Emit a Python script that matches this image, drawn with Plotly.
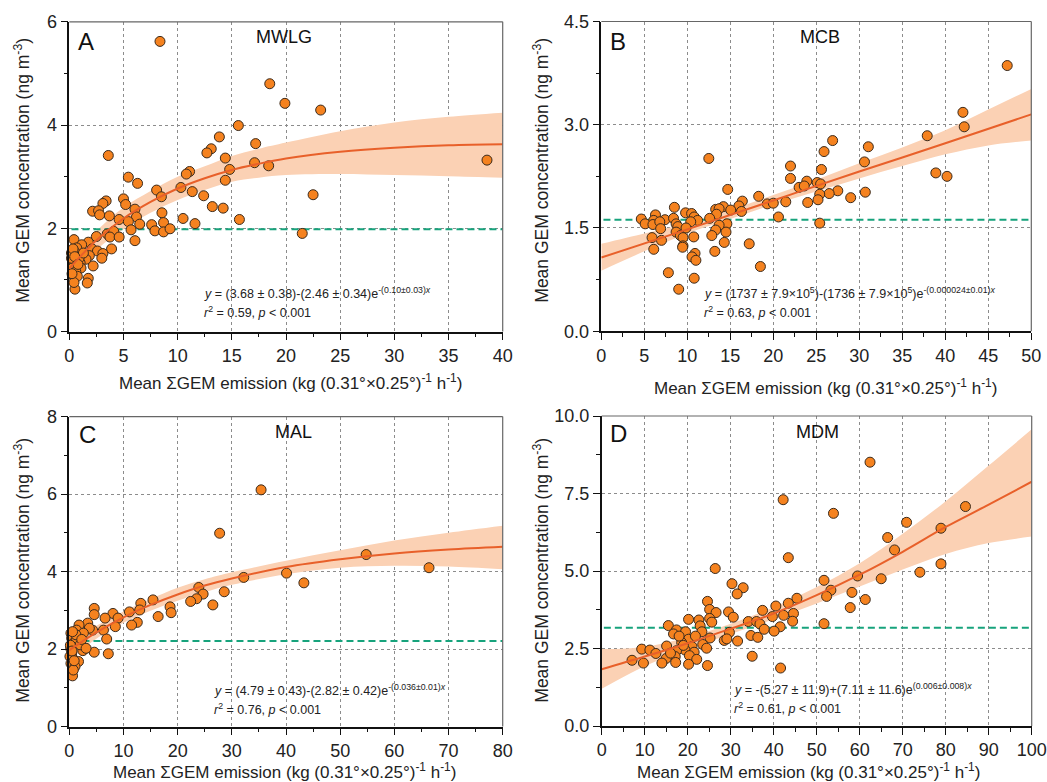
import plotly.graph_objects as go

# ---------------- Panel A (MWLG) ----------------
a_x = [8.37, 18.5, 19.9, 23.2, 15.6, 13.85, 17.2, 13.1, 12.7, 14.4, 3.6, 38.55, 17.1, 18.4, 14.8,
       11.1, 10.8, 14.4, 5.45, 6.3, 10.3, 8.06, 11.35, 22.5, 12.4, 8.5, 5.0, 3.4, 3.1, 5.2, 6.06,
       13.2, 14.2, 2.15, 2.7, 2.8, 3.7, 6.2, 8.55, 10.5, 15.7, 4.6, 5.45, 8.7, 11.6, 6.5, 7.6, 7.9,
       8.7, 9.3, 5.7, 21.5, 3.5, 4.1, 3.75, 4.6, 2.5, 6.06, 0.43, 1.75, 3.9, 2.1, 1.14, 0.68, 0.6,
       2.6, 3.1, 3.0, 1.85, 1.54, 1.0, 0.43, 0.3, 1.08, 2.2, 0.6, 0.43, 0.74, 1.75, 1.66, 0.52, 0.43,
       0.9, 1.3, 0.2, 0.2, 0.35, 0.5, 0.8, 0.25]
a_y = [5.62, 4.80, 4.42, 4.29, 3.99, 3.77, 3.64, 3.54, 3.46, 3.36, 3.41, 3.32, 3.27, 3.21, 3.14,
       3.10, 3.05, 2.93, 2.99, 2.87, 2.79, 2.74, 2.71, 2.65, 2.63, 2.61, 2.57, 2.53, 2.48, 2.46, 2.37,
       2.42, 2.39, 2.33, 2.34, 2.26, 2.24, 2.22, 2.30, 2.19, 2.17, 2.17, 2.13, 2.11, 2.09, 2.08, 2.07, 1.95,
       1.93, 1.99, 1.97, 1.90, 1.89, 1.94, 1.83, 1.83, 1.84, 1.76, 1.78, 1.73, 1.60, 1.60, 1.68, 1.62, 1.52,
       1.56, 1.51, 1.42, 1.47, 1.40, 1.33, 1.33, 1.23, 1.23, 1.27, 1.16, 1.07, 1.07, 1.03, 0.94, 0.82, 0.95,
       1.42, 1.52, 1.42, 1.52, 1.60, 1.45, 1.30, 1.12]
a_fit_x = [0, 2.5, 5, 7.5, 10, 12.5, 15, 17.5, 20, 25, 30, 35, 40]
a_fit_y = [1.22, 1.77, 2.19, 2.51, 2.77, 2.97, 3.13, 3.25, 3.35, 3.48, 3.56, 3.61, 3.63]
a_lo = [0.98, 1.58, 1.98, 2.30, 2.55, 2.74, 2.90, 2.98, 3.03, 3.05, 3.03, 3.01, 2.98]
a_hi = [1.45, 1.95, 2.40, 2.72, 3.00, 3.20, 3.40, 3.54, 3.66, 3.88, 4.05, 4.16, 4.24]
a_ref = 1.98

# ---------------- Panel B (MCB) ----------------
b_x = [47.2, 42.05, 42.2, 37.9, 26.9, 31.05, 25.9, 12.5, 30.6, 22.0, 25.6, 38.9, 40.2, 22.0, 23.9,
       25.1, 23.0, 23.6, 25.5, 14.7, 27.5, 30.7, 26.5, 25.4, 18.3, 29.0, 25.2, 16.4, 21.45, 24.0, 19.3,
       20.0, 16.0, 16.3, 14.2, 15.05, 13.3, 13.7, 8.5, 9.8, 10.5, 6.3, 13.4, 10.8, 20.6, 4.65, 7.4, 8.4,
       12.6, 11.2, 6.1, 5.1, 6.0, 6.8, 8.7, 10.4, 25.4, 14.6, 13.7, 8.9, 6.9, 9.85, 13.3, 8.7, 14.5, 5.9,
       12.85, 9.2, 9.5, 10.75, 7.0, 14.3, 17.2, 9.5, 9.45, 6.1, 13.2, 10.9, 10.55, 11.0, 18.5, 7.8, 10.8, 9.0]
b_y = [3.86, 3.18, 2.97, 2.84, 2.77, 2.68, 2.61, 2.51, 2.46, 2.40, 2.35, 2.30, 2.25, 2.22, 2.18,
       2.16, 2.09, 2.11, 2.14, 2.06, 2.04, 2.02, 2.00, 1.99, 1.96, 1.94, 1.91, 1.89, 1.88, 1.87, 1.85,
       1.86, 1.82, 1.74, 1.81, 1.76, 1.77, 1.78, 1.80, 1.72, 1.71, 1.69, 1.70, 1.66, 1.66, 1.63, 1.62, 1.64,
       1.64, 1.61, 1.61, 1.56, 1.55, 1.59, 1.56, 1.59, 1.57, 1.56, 1.54, 1.52, 1.49, 1.50, 1.47, 1.44, 1.44, 1.36,
       1.39, 1.39, 1.36, 1.37, 1.32, 1.29, 1.27, 1.24, 1.22, 1.19, 1.16, 1.13, 1.08, 1.03, 0.94, 0.85, 0.77, 0.61]
b_fit_x = [0, 10, 20, 30, 40, 50]
b_fit_y = [1.07, 1.48, 1.90, 2.32, 2.73, 3.15]
b_band_x = [0, 5, 10, 15, 20, 25, 30, 35, 40, 45, 50]
b_lo = [0.88, 1.16, 1.42, 1.63, 1.84, 2.03, 2.22, 2.40, 2.57, 2.70, 2.77]
b_hi = [1.27, 1.42, 1.57, 1.76, 1.98, 2.20, 2.44, 2.67, 2.92, 3.22, 3.52]
b_ref = 1.62

# ---------------- Panel C (MAL) ----------------
c_x = [35.4, 27.75, 54.8, 66.4, 40.1, 43.3, 32.2, 23.9, 28.6, 24.7, 23.5, 22.4, 26.5, 15.45, 13.2,
       18.6, 13.0, 18.8, 11.1, 4.6, 4.6, 8.06, 16.4, 6.6, 9.0, 12.55, 11.5, 8.5, 3.4, 6.3, 4.3, 3.7,
       1.8, 1.35, 2.6, 6.9, 4.6, 7.2, 2.5, 1.7, 0.6, 0.3, 0.43, 0.74, 0.25, 0.43, 0.62, 0.3, 1.05, 0.74,
       0.12, 1.35, 2.0, 1.23, 0.6, 2.3, 3.1, 0.2, 0.5, 0.9]
c_y = [6.11, 4.99, 4.44, 4.10, 3.96, 3.71, 3.85, 3.59, 3.48, 3.42, 3.30, 3.23, 3.14, 3.27, 3.18,
       3.09, 3.01, 2.94, 2.96, 3.05, 2.89, 2.92, 2.84, 2.80, 2.80, 2.69, 2.62, 2.58, 2.67, 2.49, 2.49, 2.54,
       2.62, 2.49, 2.41, 2.26, 1.92, 1.88, 1.96, 1.68, 1.31, 2.41, 2.28, 2.15, 2.02, 1.89, 1.76, 1.63, 1.55, 1.46,
       1.81, 2.24, 2.11, 2.37, 2.45, 2.25, 2.02, 2.10, 1.95, 1.70]
c_fit_x = [0, 5, 10, 15, 20, 25, 30, 40, 50, 60, 70, 80]
c_fit_y = [1.97, 2.43, 2.82, 3.14, 3.41, 3.64, 3.82, 4.12, 4.32, 4.47, 4.57, 4.64]
c_lo = [1.72, 2.27, 2.68, 2.99, 3.25, 3.47, 3.66, 3.93, 4.10, 4.15, 4.13, 4.06]
c_hi = [2.22, 2.60, 2.97, 3.29, 3.58, 3.80, 3.98, 4.28, 4.55, 4.80, 5.00, 5.18]
c_ref = 2.21

# ---------------- Panel D (MDM) ----------------
d_x = [62.4, 42.2, 53.9, 84.6, 70.9, 78.9, 66.5, 68.1, 43.4, 78.9, 26.4, 74.0, 59.5, 65.0, 51.7,
       30.3, 32.9, 31.5, 53.3, 58.2, 52.3, 45.4, 61.3, 24.6, 43.4, 40.5, 57.8, 25.1, 37.4, 26.6, 29.5,
       44.6, 42.3, 39.7, 30.6, 20.2, 22.6, 25.1, 34.1, 36.0, 44.4, 25.6, 15.5, 36.8, 51.7, 41.5, 22.9,
       37.8, 17.4, 19.5, 29.7, 40.1, 16.7, 23.3, 34.7, 25.2, 36.3, 28.5, 29.1, 31.6, 20.2, 18.6, 15.1,
       23.5, 21.0, 24.4, 9.3, 11.2, 19.4, 17.4, 12.6, 21.5, 17.1, 15.0, 20.4, 22.1, 7.05, 17.2, 9.7,
       14.0, 20.2, 24.6, 35.0, 41.6, 18.0, 19.0, 21.8, 16.0]
d_y = [8.51, 7.30, 6.86, 7.08, 6.57, 6.38, 6.08, 5.68, 5.43, 5.23, 5.08, 4.96, 4.84, 4.75, 4.70,
       4.59, 4.46, 4.26, 4.38, 4.31, 4.18, 4.12, 4.08, 4.02, 3.96, 3.87, 3.82, 3.76, 3.73, 3.66, 3.68,
       3.63, 3.57, 3.53, 3.51, 3.44, 3.42, 3.47, 3.37, 3.37, 3.38, 3.35, 3.24, 3.29, 3.30, 3.20, 3.23,
       3.12, 3.10, 3.04, 3.02, 3.06, 2.97, 3.04, 2.92, 2.84, 2.86, 2.76, 2.81, 2.74, 2.80, 2.69, 2.58,
       2.63, 2.56, 2.51, 2.48, 2.45, 2.45, 2.43, 2.34, 2.38, 2.24, 2.18, 2.27, 2.15, 2.12, 2.05, 2.03,
       2.03, 1.99, 1.95, 2.25, 1.87, 2.90, 2.60, 2.90, 2.35]
d_fit_x = [0, 10, 20, 30, 40, 50, 60, 70, 80, 90, 100]
d_fit_y = [1.83, 2.24, 2.67, 3.14, 3.63, 4.22, 4.88, 5.62, 6.42, 7.14, 7.88]
d_lo = [1.20, 1.93, 2.48, 2.97, 3.44, 3.95, 4.50, 5.05, 5.55, 5.90, 6.11]
d_hi = [2.48, 2.55, 2.86, 3.30, 3.83, 4.48, 5.25, 6.20, 7.25, 8.40, 9.57]
d_ref = 3.17

# ---------------- Labels ----------------
panel_letters = ["A", "B", "C", "D"]
panel_titles = ["MWLG", "MCB", "MAL", "MDM"]
equations = [
    "<i>y</i> = (3.68 ± 0.38)-(2.46 ± 0.34)e<sup>-(0.10±0.03)<i>x</i></sup>",
    "<i>y</i> = (1737 ± 7.9×10<sup>5</sup>)-(1736 ± 7.9×10<sup>5</sup>)e<sup>-(0.000024±0.01)<i>x</i></sup>",
    "<i>y</i> = (4.79 ± 0.43)-(2.82 ± 0.42)e<sup>-(0.036±0.01)<i>x</i></sup>",
    "<i>y</i> = -(5.27 ± 11.9)+(7.11 ± 11.6)e<sup>(0.006±0.008)<i>x</i></sup>",
]
stats = [
    "<i>r</i><sup>2</sup> = 0.59, <i>p</i> &lt; 0.001",
    "<i>r</i><sup>2</sup> = 0.63, <i>p</i> &lt; 0.001",
    "<i>r</i><sup>2</sup> = 0.76, <i>p</i> &lt; 0.001",
    "<i>r</i><sup>2</sup> = 0.61, <i>p</i> &lt; 0.001",
]
x_title = "Mean ΣGEM emission (kg (0.31°×0.25°)<sup>-1</sup> h<sup>-1</sup>)"
y_title = "Mean GEM concentration (ng m<sup>-3</sup>)"

FONT = "Arial, Liberation Sans, sans-serif"
W, H = 1047, 782
MARK = "#F5821F"
EDGE = "#3a2a1c"
LINE = "#E8602A"
BAND = "#FBD1B4"
GREEN = "#17A37C"

panels = [
    dict(x=a_x, y=a_y, fx=a_fit_x, fy=a_fit_y, bx=a_fit_x, lo=a_lo, hi=a_hi, ref=a_ref,
         xr=[0, 40], xd=5, yr=[0, 6], yd=2, yfmt="d", xdom=[69.3, 502.7], ydom=[21.8, 331.5],
         eqx=0.306, eqy=(0.124, 0.063), lx=0.0385, ly=0.935, tx=0.495, ty=0.951,
         xtt=(290, 382), ytt=(21.7, 170)),
    dict(x=b_x, y=b_y, fx=b_fit_x, fy=b_fit_y, bx=b_band_x, lo=b_lo, hi=b_hi, ref=b_ref,
         xr=[0, 50], xd=5, yr=[0, 4.5], yd=1.5, yfmt=".1f", xdom=[601.3, 1031.3], ydom=[21.5, 331.2],
         eqx=0.234, eqy=(0.124, 0.063), lx=0.039, ly=0.935, tx=0.509, ty=0.951,
         xtt=(825, 387), ytt=(540.7, 170)),
    dict(x=c_x, y=c_y, fx=c_fit_x, fy=c_fit_y, bx=c_fit_x, lo=c_lo, hi=c_hi, ref=c_ref,
         xr=[0, 80], xd=10, yr=[0, 8], yd=2, yfmt="d", xdom=[69.3, 502.7], ydom=[416.6, 726.6],
         eqx=0.329, eqy=(0.118, 0.057), lx=0.041, ly=0.941, tx=0.518, ty=0.951,
         xtt=(284, 771), ytt=(21.7, 570)),
    dict(x=d_x, y=d_y, fx=d_fit_x, fy=d_fit_y, bx=d_fit_x, lo=d_lo, hi=d_hi, ref=d_ref,
         xr=[0, 100], xd=10, yr=[0, 10], yd=2.5, yfmt=".1f", xdom=[601.7, 1031.7], ydom=[416.0, 726.0],
         eqx=0.303, eqy=(0.118, 0.057), lx=0.040, ly=0.945, tx=0.503, ty=0.948,
         xtt=(808, 771), ytt=(540.7, 570)),
]

fig = go.Figure()
annotations = []
shapes = []
layout_axes = {}

for i, p in enumerate(panels):
    n = i + 1
    xa = "x" if n == 1 else f"x{n}"
    ya = "y" if n == 1 else f"y{n}"
    xkey = "xaxis" if n == 1 else f"xaxis{n}"
    ykey = "yaxis" if n == 1 else f"yaxis{n}"

    # confidence band
    fig.add_trace(go.Scatter(x=p["bx"], y=p["hi"], mode="lines", line=dict(width=0, shape="spline"),
                             xaxis=xa, yaxis=ya, showlegend=False, hoverinfo="skip"))
    fig.add_trace(go.Scatter(x=p["bx"], y=p["lo"], mode="lines", line=dict(width=0, shape="spline"),
                             fill="tonexty", fillcolor=BAND,
                             xaxis=xa, yaxis=ya, showlegend=False, hoverinfo="skip"))
    # reference (green dashed)
    fig.add_trace(go.Scatter(x=[p["xr"][0] + 0.005 * (p["xr"][1] - p["xr"][0]), p["xr"][1]],
                             y=[p["ref"], p["ref"]], mode="lines",
                             line=dict(color=GREEN, width=2, dash="7px,4px"),
                             xaxis=xa, yaxis=ya, showlegend=False))
    # points
    fig.add_trace(go.Scatter(x=p["x"], y=p["y"], mode="markers",
                             marker=dict(size=10, color=MARK, line=dict(color=EDGE, width=1)),
                             xaxis=xa, yaxis=ya, showlegend=False, cliponaxis=False))
    # fit
    fig.add_trace(go.Scatter(x=p["fx"], y=p["fy"], mode="lines",
                             line=dict(color=LINE, width=2, shape="spline"),
                             xaxis=xa, yaxis=ya, showlegend=False))

    common = dict(showline=True, linecolor="#111", linewidth=1.5, ticks="outside", ticklen=7,
                  tickwidth=1.2, tickcolor="#111", zeroline=False, showgrid=True,
                  gridcolor="#8c8c8c", gridwidth=1, griddash="3px,3px", automargin=False,
                  ticklabeloverflow="allow",
                  tickfont=dict(family=FONT, size=18, color="#222"))
    layout_axes[xkey] = dict(common, range=p["xr"], dtick=p["xd"], tick0=0,
                             domain=[p["xdom"][0] / W, p["xdom"][1] / W], anchor=ya,
                             minor=dict(ticks="outside", ticklen=4, tickcolor="#111",
                                        dtick=p["xd"] / 2, tick0=0, showgrid=False))
    layout_axes[ykey] = dict(common, range=p["yr"], dtick=p["yd"], tick0=0, tickformat=p["yfmt"],
                             domain=[1 - p["ydom"][1] / H, 1 - p["ydom"][0] / H], anchor=xa,
                             minor=dict(ticks="outside", ticklen=4, tickcolor="#111",
                                        dtick=p["yd"] / 2, tick0=0, showgrid=False))

    xd_ref = f"{xa} domain"
    yd_ref = f"{ya} domain"
    # top and right grey frame
    shapes.append(dict(type="line", xref=xd_ref, yref=yd_ref, x0=0, x1=1, y0=1, y1=1,
                       line=dict(color="#666", width=1.2)))
    shapes.append(dict(type="line", xref=xd_ref, yref=yd_ref, x0=1, x1=1, y0=0, y1=1,
                       line=dict(color="#666", width=1.2)))

    annotations.append(dict(text=panel_letters[i], xref=xd_ref, yref=yd_ref, x=p["lx"], y=p["ly"],
                            xanchor="center", yanchor="middle", showarrow=False,
                            font=dict(family=FONT, size=24, color="#111")))
    annotations.append(dict(text=panel_titles[i], xref=xd_ref, yref=yd_ref, x=p["tx"], y=p["ty"],
                            xanchor="center", yanchor="middle", showarrow=False,
                            font=dict(family=FONT, size=18, color="#111")))
    annotations.append(dict(text=equations[i], xref=xd_ref, yref=yd_ref, x=p["eqx"], y=p["eqy"][0],
                            xanchor="left", yanchor="middle", showarrow=False,
                            font=dict(family=FONT, size=12.5, color="#222")))
    annotations.append(dict(text=stats[i], xref=xd_ref, yref=yd_ref, x=p["eqx"], y=p["eqy"][1],
                            xanchor="left", yanchor="middle", showarrow=False,
                            font=dict(family=FONT, size=12.5, color="#222")))
    annotations.append(dict(text=x_title, xref="paper", yref="paper",
                            x=p["xtt"][0] / W, y=1 - p["xtt"][1] / H,
                            xanchor="center", yanchor="middle", showarrow=False,
                            font=dict(family=FONT, size=17, color="#222")))
    annotations.append(dict(text=y_title, xref="paper", yref="paper",
                            x=p["ytt"][0] / W, y=1 - p["ytt"][1] / H, textangle=-90,
                            xanchor="center", yanchor="middle", showarrow=False,
                            font=dict(family=FONT, size=17.5, color="#222")))

fig.update_layout(width=W, height=H, margin=dict(l=0, r=0, t=0, b=0),
                  paper_bgcolor="white", plot_bgcolor="white",
                  annotations=annotations, shapes=shapes, **layout_axes)

fig.write_html("out.html", config={"displayModeBar": False},
               post_script="document.body.style.margin='0';document.body.style.overflow='hidden';")
